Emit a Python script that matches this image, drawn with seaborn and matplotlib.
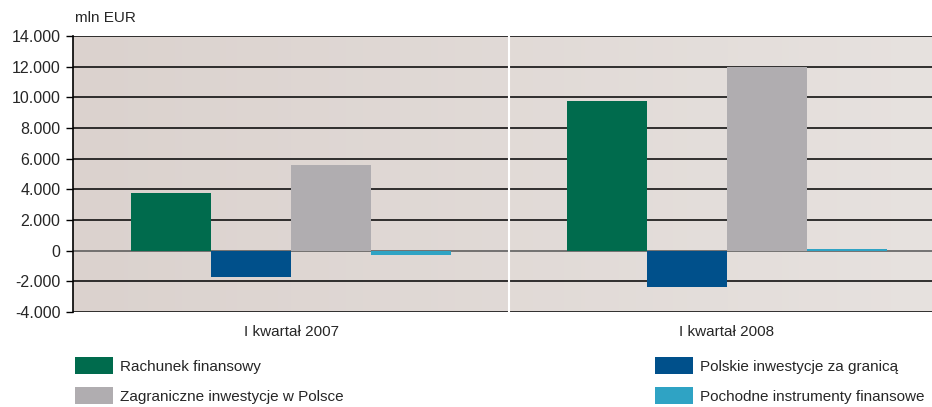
import matplotlib
matplotlib.use("Agg")
import matplotlib.pyplot as plt
import numpy as np
import pandas as pd
import seaborn as sns
from matplotlib.colors import LinearSegmentedColormap

# data (mln EUR)
quarters = ["I kwartał 2007", "I kwartał 2008"]
series = ["Rachunek finansowy", "Polskie inwestycje za granicą",
          "Zagraniczne inwestycje w Polsce", "Pochodne instrumenty finansowe"]
q2007 = [3750, -1720, 5570, -280]
q2008 = [9750, -2370, 12000, 110]
colors = ["#006b4d", "#00508b", "#b0adb0", "#2fa3c4"]
yticks = list(range(-4000, 14001, 2000))
ytick_labels = ["{:,}".format(v).replace(",", ".") for v in yticks]

df = pd.DataFrame({
    "kwartal": [quarters[0]] * 4 + [quarters[1]] * 4,
    "seria": series * 2,
    "wartosc": q2007 + q2008,
})

sns.set_style("white")
plt.rcParams["font.family"] = ["Liberation Sans", "DejaVu Sans"]

fig = plt.figure(figsize=(9.32, 4.07), dpi=100)
ax = fig.add_axes([73 / 932, 1 - 312 / 407, 872 / 932, 276 / 407])

# background gradient
cmap = LinearSegmentedColormap.from_list("bg", ["#dbd2ce", "#e7e2df"])
ax.imshow(np.linspace(0, 1, 256).reshape(1, -1), cmap=cmap, aspect="auto",
          extent=[-0.5, 1.5, -4000, 14000], zorder=0)

sns.barplot(data=df, x="kwartal", y="wartosc", hue="seria", palette=colors,
            saturation=1, width=0.734, gap=0, ax=ax, legend=True, zorder=3,
            linewidth=0, edgecolor="none")

for v in yticks:
    ax.axhline(v, color="black" if v != 0 else "#555555", lw=1.1, zorder=1)
ax.axvline(0.5, color="white", lw=1.5, zorder=1)

ax.set_xlim(-0.5, 1.5)
ax.set_ylim(-4000, 14000)
ax.set_yticks(yticks)
ax.set_yticklabels(ytick_labels, fontsize=11.5)
ax.tick_params(axis="y", length=5, width=1, color="black", pad=4, left=True)
ax.tick_params(axis="x", length=0, pad=9, labelsize=11)
ax.set_xlabel("")
ax.set_ylabel("")
for s in ["top", "right", "bottom"]:
    ax.spines[s].set_visible(False)
ax.spines["left"].set_color("black")
ax.spines["left"].set_linewidth(1.2)

fig.text(75 / 932, 1 - 18 / 407, "mln EUR", fontsize=11, va="center", ha="left")

handles, labels = ax.get_legend_handles_labels()
ax.get_legend().remove()
leg_kw = dict(loc="upper left", frameon=False, fontsize=11, borderpad=0,
              handlelength=2.5, handleheight=1.35, handletextpad=0.45,
              labelspacing=0.85, borderaxespad=0)
fig.legend([handles[0], handles[2]], [labels[0], labels[2]],
           bbox_to_anchor=(75 / 932, 1 - 357 / 407), **leg_kw)
fig.legend([handles[1], handles[3]], [labels[1], labels[3]],
           bbox_to_anchor=(655 / 932, 1 - 357 / 407), **leg_kw)

fig.savefig("out.png", dpi=100)
